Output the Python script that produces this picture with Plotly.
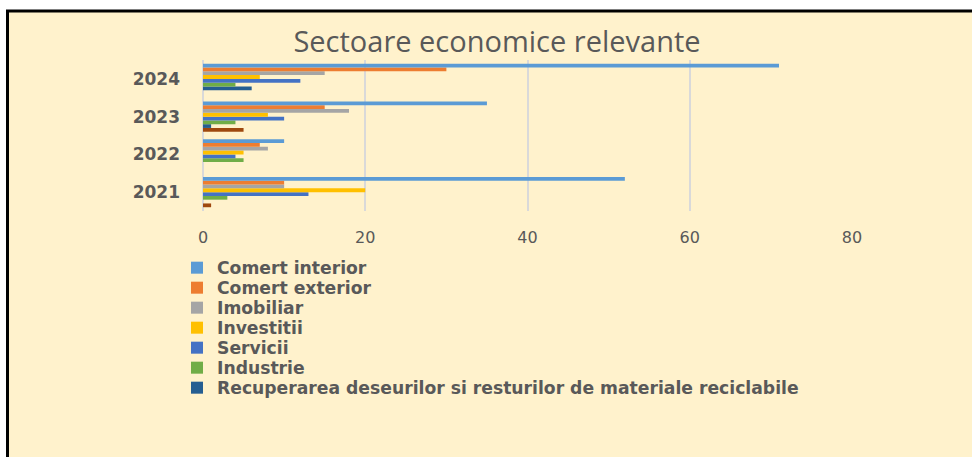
import plotly.graph_objects as go

years = ["2021", "2022", "2023", "2024"]
series_names = [
    "Comert interior",
    "Comert exterior",
    "Imobiliar",
    "Investitii",
    "Servicii",
    "Industrie",
    "Recuperarea deseurilor si resturilor de materiale reciclabile",
    "Alte sectoare",
]
comert_interior = [52, 10, 35, 71]
comert_exterior = [10, 7, 15, 30]
imobiliar = [10, 8, 18, 15]
investitii = [20, 5, 8, 7]
servicii = [13, 4, 10, 12]
industrie = [3, 5, 4, 4]
recuperarea = [0, 0, 1, 6]
alte = [1, 0, 5, 0]
x_ticks = [0, 20, 40, 60, 80]

values = [comert_interior, comert_exterior, imobiliar, investitii,
          servicii, industrie, recuperarea, alte]
colors = ["#5B9BD5", "#ED7D31", "#A5A5A5", "#FFC000",
          "#4472C4", "#70AD47", "#255E91", "#9E480E"]
in_legend = [True] * 7 + [False]

W, H = 972, 457
L, R, T, B = 203, 852, 60, 211
TXT = "#595959"


def px(xp):
    return (xp - L) / (R - L)


def py(yp):
    return (B - yp) / (B - T)


fig = go.Figure()
legend_ids = ["legend"] + [f"legend{i}" for i in range(2, 8)] + ["legend"]
for i in reversed(range(len(series_names))):
    fig.add_trace(go.Bar(
        y=years, x=values[i], name=series_names[i], orientation="h",
        marker=dict(color=colors[i], line=dict(width=0)),
        showlegend=in_legend[i], legend=legend_ids[i],
    ))

fig.add_shape(type="rect", xref="paper", yref="paper", layer="below",
              x0=px(7.5), x1=px(990), y0=py(480), y1=py(11),
              fillcolor="#FFF2CC", line=dict(color="black", width=3))

legend_font = dict(family="DejaVu Sans", size=17.2, color=TXT, weight="bold")
legend_layouts = {}
for k in range(7):
    key = legend_ids[k]
    legend_layouts[key] = dict(
        x=px(177), xanchor="left", y=py(268 + 20 * k), yanchor="middle",
        bgcolor="rgba(0,0,0,0)", font=legend_font, itemclick=False,
        borderwidth=0,
    )

fig.update_layout(
    width=W, height=H,
    margin=dict(l=L, r=W - R, t=T, b=H - B, pad=0),
    paper_bgcolor="white",
    plot_bgcolor="rgba(0,0,0,0)",
    barmode="group",
    bargap=0.2,
    bargroupgap=0,
    title=dict(text="Sectoare economice relevante", x=497 / W, xanchor="center",
               xref="container", y=1 - 42 / H, yanchor="middle", yref="container",
               font=dict(family="Open Sans", size=29, color=TXT)),
    xaxis=dict(range=[0, 80], tickvals=x_ticks, showgrid=True, gridcolor="#D9D9D9",
               gridwidth=2, zeroline=True, zerolinecolor="#D9D9D9", zerolinewidth=2,
               showline=False, ticks="", ticklabelstandoff=15,
               tickfont=dict(family="DejaVu Sans", size=16, color=TXT)),
    yaxis=dict(type="category", categoryorder="array", categoryarray=years,
               showgrid=False, zeroline=False, showline=False, ticks="",
               ticklabelstandoff=22,
               tickfont=dict(family="DejaVu Sans", size=17, color=TXT, weight="bold")),
    showlegend=True,
    **legend_layouts,
)

fig.write_html("out.html", config={"displayModeBar": False},
               post_script="document.body.style.margin='0';")
